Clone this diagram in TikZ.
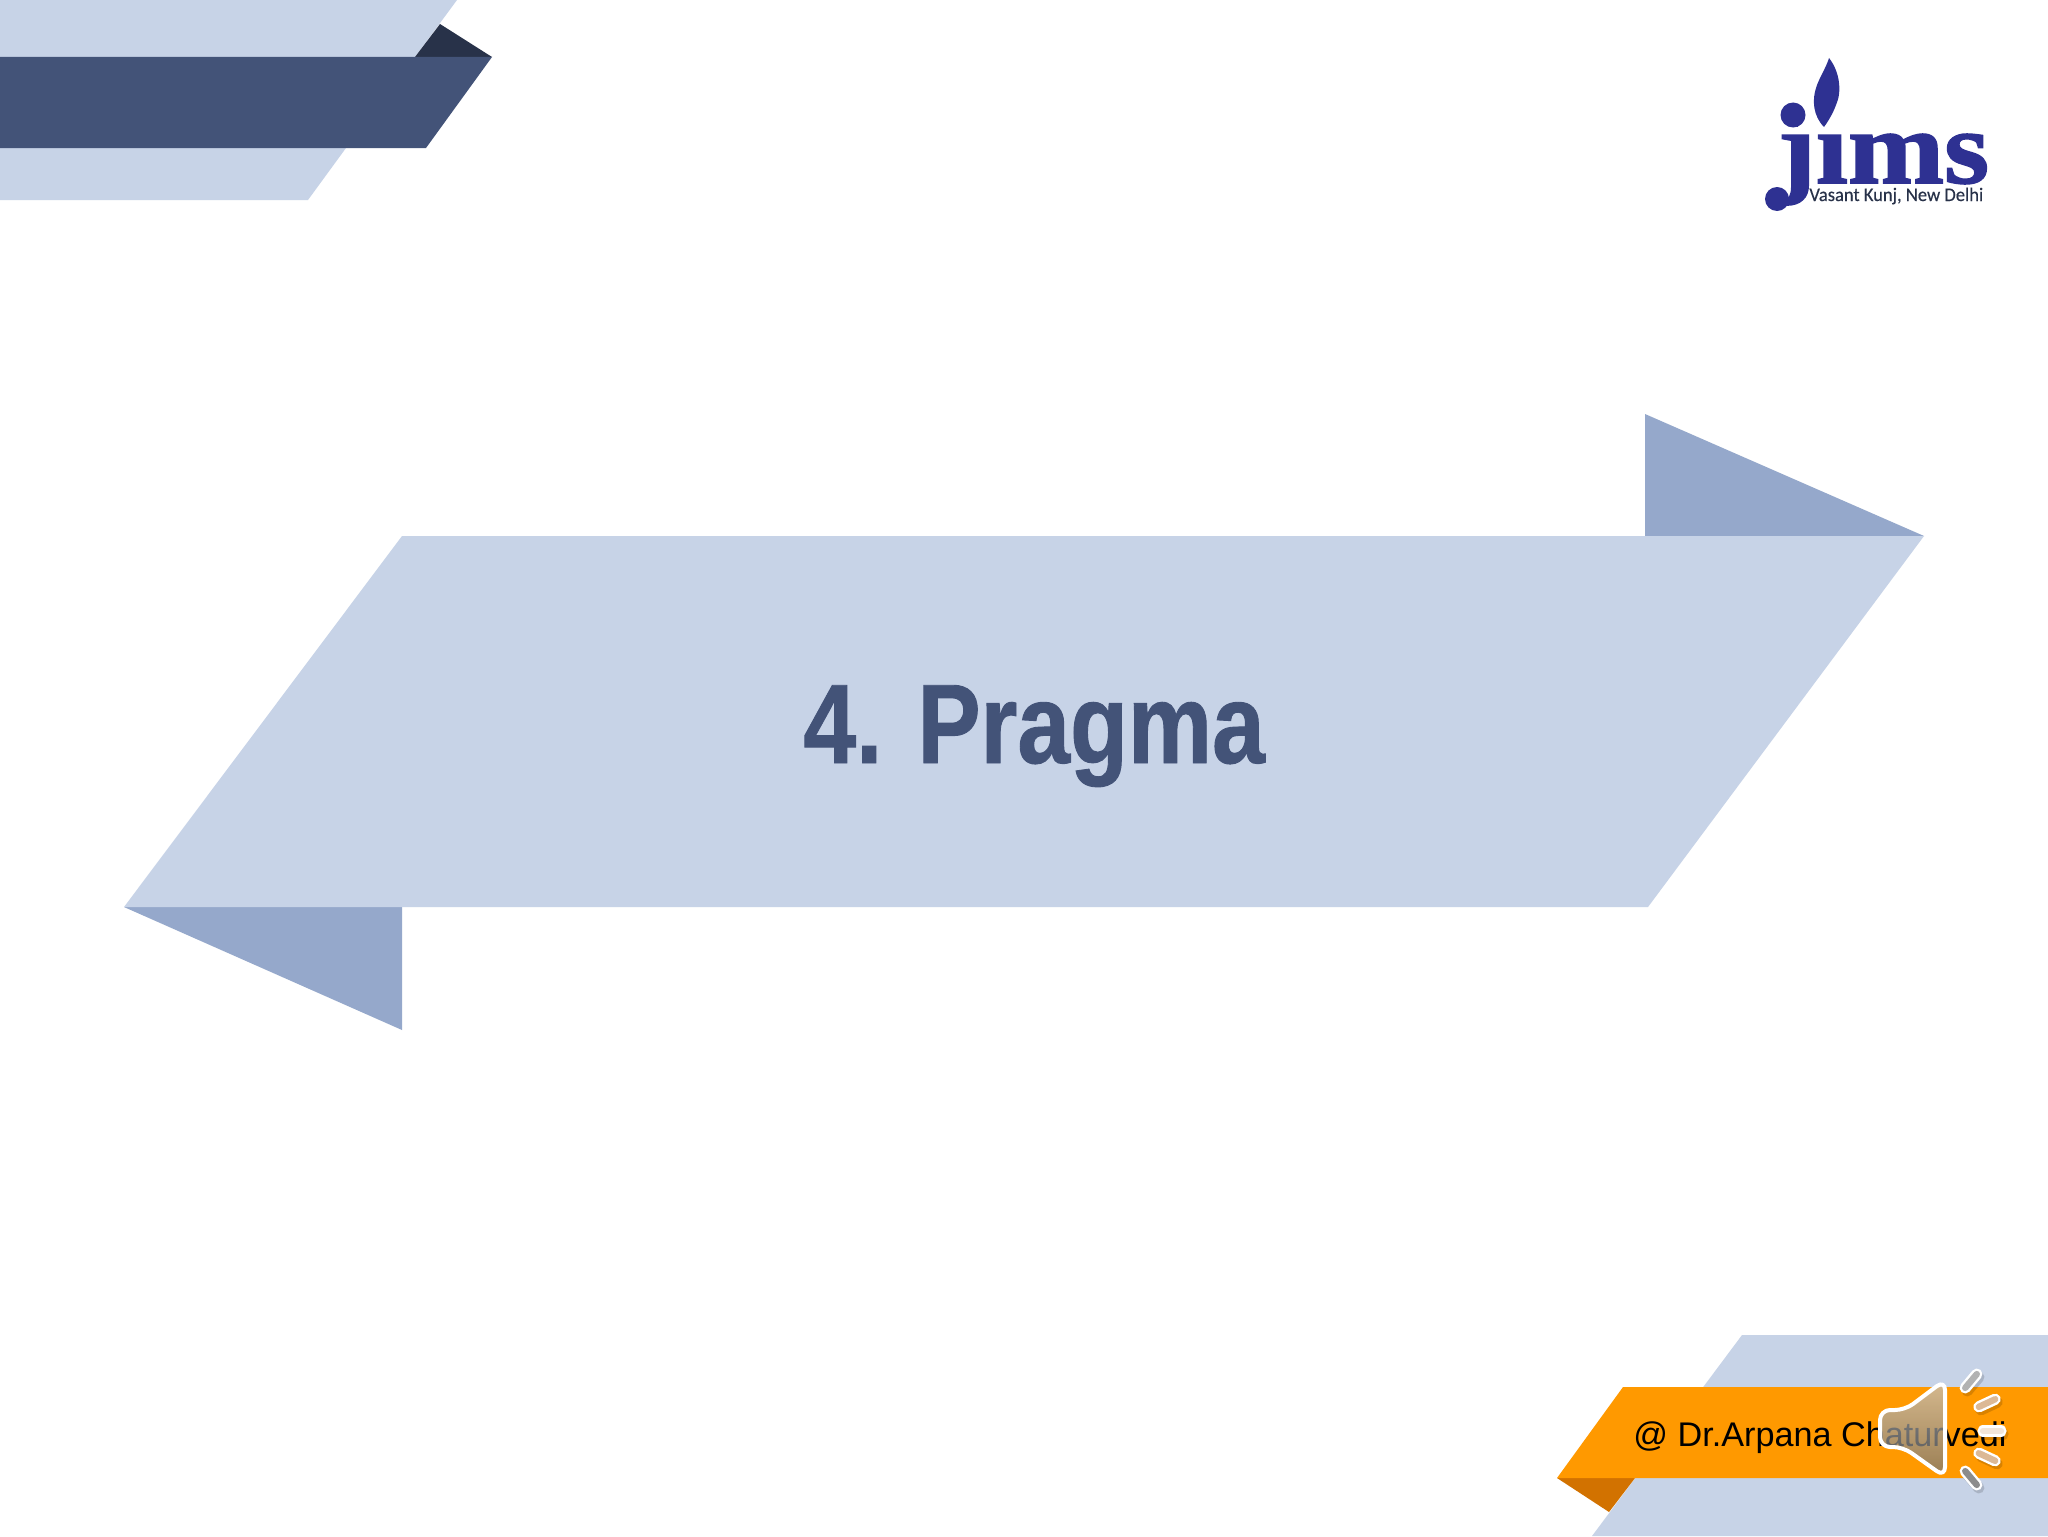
\documentclass[tikz,border=0pt]{standalone}
\usepackage{fontspec}
\setmainfont{Liberation Sans}
\newfontfamily\titlefont[FakeStretch=0.838,FakeBold=0.8]{Liberation Sans}
\newfontfamily\logofont[FakeBold=1.5]{Liberation Serif}
\newfontfamily\placefont[FakeStretch=0.965,FakeBold=0.3]{Carlito}
\definecolor{ribbonlight}{HTML}{C7D3E7}
\definecolor{ribbonmid}{HTML}{95A8CB}
\definecolor{ribbondark}{HTML}{435378}
\definecolor{folddark}{HTML}{283249}
\definecolor{tagorange}{HTML}{FF9900}
\definecolor{tagfold}{HTML}{D27200}
\definecolor{logoblue}{HTML}{2E3192}
\tikzset{
  band/.style={fill=ribbonlight},
  fold/.style={fill=ribbonmid},
  label/.style={inner sep=0pt,anchor=base west},
  rayback/.style={white,line width=5.6pt,line cap=round},
}
\begin{document}
\begin{tikzpicture}[x=0.5pt,y=-0.5pt]
      \useasboundingbox (0,0) rectangle (2048,1536);
      \fill[white] (0,0) rectangle (2048,1536);

      \fill[band] (0,0) -- (457,0) -- (415,57) -- (0,57) -- cycle;
      \fill[band] (0,148) -- (346,148) -- (308,200) -- (0,200) -- cycle;
      \fill[folddark] (415,57) -- (440,24) -- (492,57) -- cycle;
      \fill[ribbondark] (0,57) -- (492,57) -- (426,148) -- (0,148) -- cycle;

      \fill[fold] (1645,414) -- (1924,536) -- (1645,536) -- cycle;
      \fill[fold] (124,907) -- (402,907) -- (402,1030) -- cycle;
      \fill[band] (402,536) -- (1924,536) -- (1648,907) -- (124,907) -- cycle;
      \node[label,text=ribbondark] (title) at (803,763)
        {\titlefont\fontsize{56.5}{56.5}\selectfont\bfseries 4. Pragma};

      \fill[band] (1742,1335) -- (2048,1335) -- (2048,1536) -- (1592,1536) -- cycle;
      \fill[tagfold] (1557,1478) -- (1635,1478) -- (1609,1512) -- cycle;
      \fill[tagorange] (1623,1387) -- (2048,1387) -- (2048,1478) -- (1557,1478) -- cycle;
      \node[label] (author) at (1633,1446) {\fontsize{17.1}{17.1}\selectfont @ Dr.Arpana Chaturvedi};

      \node[label,text=logoblue,xscale=1.11] (logo) at (1777,183)
        {\logofont\fontsize{52}{52}\selectfont\bfseries jims};
      \fill[white] (1798,96) rectangle (1850,130);
      \fill[logoblue] (1829,58) .. controls (1840,72) and (1842,92) .. (1836,105)
        .. controls (1833,113) and (1829,120) .. (1824,127)
        .. controls (1813,116) and (1812,100) .. (1816,88)
        .. controls (1819,78) and (1826,68) .. (1829,58) -- cycle;
      \fill[logoblue] (1793,115) circle (12.5);
      \fill[logoblue] (1777,199) circle (12);
      \node[label,text=folddark] (place) at (1809,201)
        {\placefont\fontsize{9.6}{9.6}\selectfont Vasant Kunj, New Delhi};

      \draw[white,line width=2pt,line join=round,rounded corners=5pt,
        top color=black!22,bottom color=black!55,fill opacity=.72]
        (1880,1410) -- (1905,1410) -- (1945,1380) -- (1945,1477) -- (1903,1447) -- (1880,1447) -- cycle;
      \foreach \cx/\cy/\ang/\raycol in {1971/1381/-50/black!30,1987/1403/-25/brown!55,1992/1431/0/brown!20,1987/1457/25/brown!55,1971/1478/50/black!45} {
        \draw[black,opacity=.15,line width=5.6pt,line cap=round] ([shift={(\ang:9)}]\cx+2,\cy+3) -- ([shift={(\ang+180:9)}]\cx+2,\cy+3);
        \draw[rayback] ([shift={(\ang:9)}]\cx,\cy) -- ([shift={(\ang+180:9)}]\cx,\cy);
        \draw[\raycol,line width=3.2pt,line cap=round] ([shift={(\ang:9)}]\cx,\cy) -- ([shift={(\ang+180:9)}]\cx,\cy);
      }
    \end{tikzpicture}
\end{document}
